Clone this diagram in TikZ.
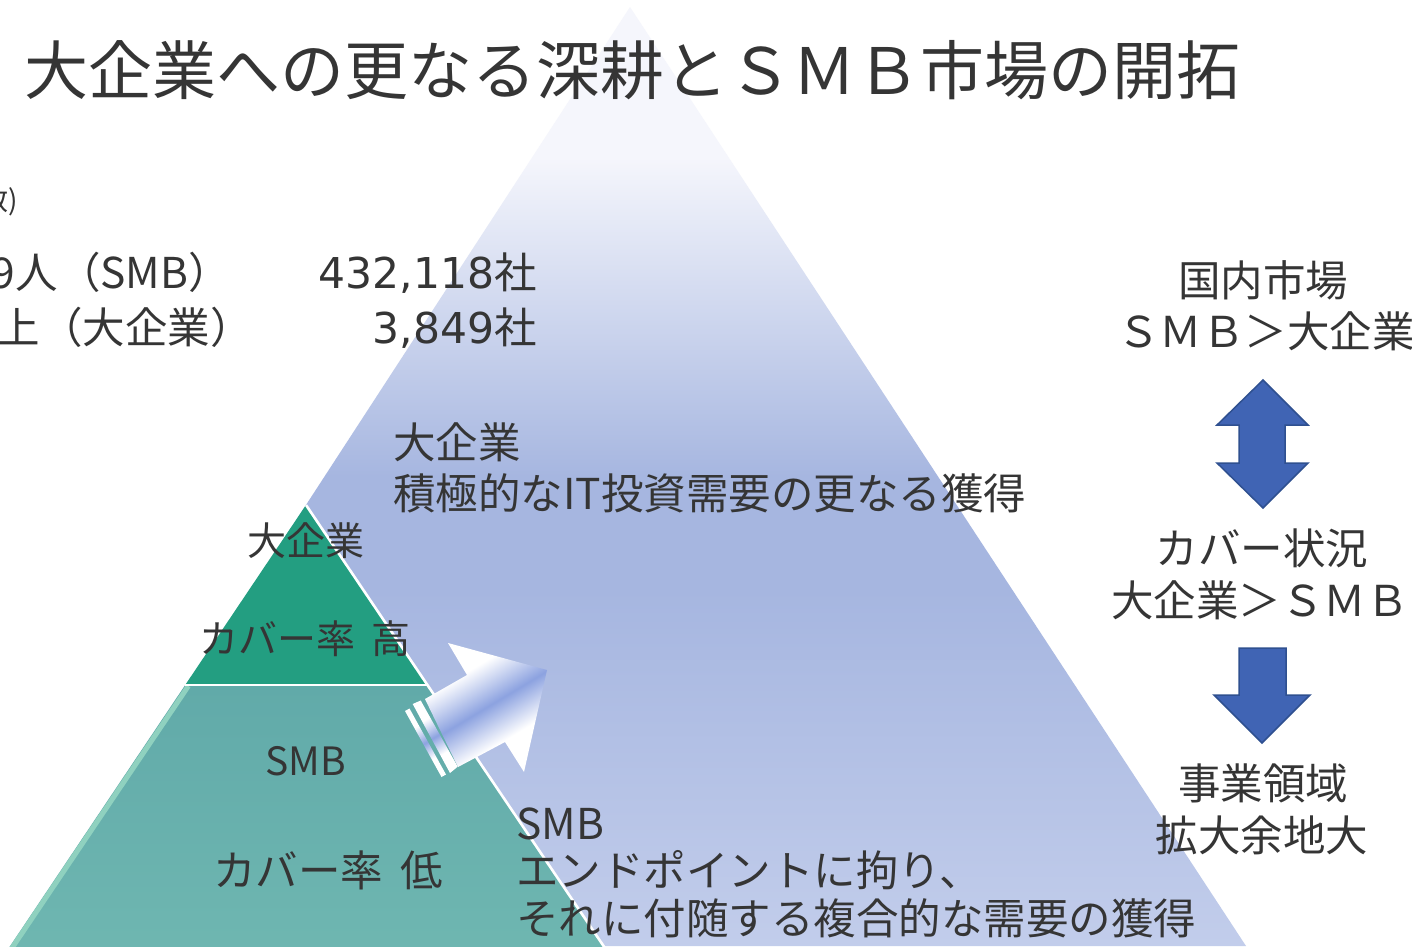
\documentclass[tikz,border=0pt]{standalone}
\usepackage{fontspec}
\setmainfont{Noto Sans CJK JP}
\newfontfamily\numfont{DejaVu Sans}
\usetikzlibrary{calc}
\definecolor{txt}{HTML}{353535}
\definecolor{tritop}{HTML}{F5F6FC}
\definecolor{trimid}{HTML}{A6B6E0}
\definecolor{tribot}{HTML}{C2CDEB}
\definecolor{gdark}{HTML}{239E81}
\definecolor{glightA}{HTML}{61AAA9}
\definecolor{glightB}{HTML}{6FB7B1}
\definecolor{gedge}{HTML}{8FD1BF}
\definecolor{arrblue}{HTML}{8CA2E0}
\definecolor{bfill}{HTML}{4064B4}
\definecolor{bline}{HTML}{2F5090}
\pgfdeclareverticalshading{bigtri}{100bp}{color(0bp)=(tribot); color(25bp)=(tribot); color(44bp)=(trimid); color(50bp)=(trimid); color(67bp)=(tritop); color(100bp)=(tritop)}
\pgfdeclareverticalshading{arrsh}{100bp}{color(0bp)=(white); color(35bp)=(white); color(50bp)=(arrblue); color(66bp)=(white); color(100bp)=(white)}
\tikzset{
  lbl/.style={text=txt, inner sep=0pt, font=\fontsize{42.5}{50}\selectfont},
  glbl/.style={text=txt, inner sep=0pt, font=\fontsize{39}{47}\selectfont},
  glblbig/.style={text=txt, inner sep=0pt, font=\fontsize{42.5}{50}\selectfont},
  ttl/.style={text=txt, inner sep=0pt, font=\fontsize{64}{72}\selectfont},
  blockarrow/.style={fill=bfill, draw=bline, line width=1.5pt, line join=miter},
  sharrow/.style={shading=arrsh, shading angle=31},
}
\begin{document}
\begin{tikzpicture}[x=1pt, y=-1pt]
\useasboundingbox (0,0) rectangle (1412,946);
\clip (0,0) rectangle (1412,946);
\fill[white] (0,0) rectangle (1412,946);
% big pyramid
\shade[shading=bigtri] (630,7) -- (19,946) -- (1246,946) -- cycle;
% small pyramid
\fill[gdark] (306,505) -- (185.2,685) -- (427.5,685) -- cycle;
\shade[top color=glightA, bottom color=glightB] (185.2,685) -- (427.5,685) -- (613,960) -- (0.7,960) -- cycle;
\draw[gedge, line width=5pt] ($(185.2,685)+(3.2,1)$) -- ($(0.7,960)+(3.2,0)$);
\draw[white, line width=2.8pt] (185.2,685) -- (427.5,685);
\draw[white, line width=2.6pt] (306,505) -- (613,960);
% 3D arrow
\shade[sharrow] (412.7,704) -- (420.7,700.5) -- (457.7,766.7) -- (450,773) -- cycle;
\shade[sharrow] (405,711) -- (409.5,708.5) -- (446,774.5) -- (441.5,777) -- cycle;
\shade[sharrow] (425,699) -- (467,675) -- (448,643) -- (547,670) -- (524,772) -- (505,742) -- (458,767) -- cycle;
% right block arrows
\draw[blockarrow] (1263,380) -- (1308,425) -- (1285,425) -- (1285,463) -- (1308,463) -- (1263,508) -- (1217,463) -- (1239,463) -- (1239,425) -- (1217,425) -- cycle;
\draw[blockarrow] (1239,648) -- (1286,648) -- (1286,695) -- (1310,695) -- (1262,743) -- (1214,695) -- (1239,695) -- cycle;
% title
\node[ttl, anchor=base west] (title) at (24,94) {大企業への更なる深耕とＳＭＢ市場の開拓};
% left clipped legend
\node[text=txt, inner sep=0pt, font=\fontsize{28}{34}\selectfont, anchor=base east] (unit) at (18,210) {(企業数)};
\node[lbl, anchor=base east] (smbrow) at (231,288) {1～999人（SMB）};
\node[lbl, anchor=base east] (lerow) at (253,343) {1,000人以上（大企業）};
\node[lbl, anchor=base east] (smbnum) at (537,288) {{\numfont 432,118}社};
\node[lbl, anchor=base east] (lenum) at (537,343) {{\numfont 3,849}社};
% big pyramid texts
\node[lbl, anchor=base west] (le1) at (393,458) {大企業};
\node[lbl, anchor=base west] (le2) at (393,509) {積極的なIT投資需要の更なる獲得};
\node[lbl, anchor=base west] (smb1) at (516,839) {SMB};
\node[lbl, anchor=base west] (smb2) at (516,886) {エンドポイントに拘り、};
\node[lbl, anchor=base west] (smb3) at (516,934) {それに付随する複合的な需要の獲得};
% small pyramid texts
\node[glbl, anchor=base] (g1) at (306,555) {大企業};
\node[glbl, anchor=base] (g2) at (305,653) {カバー率\hspace{0.4em}高};
\node[glbl, anchor=base] (g3) at (306,775) {SMB};
\node[glblbig, anchor=base] (g4) at (328,886) {カバー率\hspace{0.4em}低};
% right column
\node[lbl, anchor=base] (r1) at (1263,296) {国内市場};
\node[lbl, anchor=base] (r2) at (1266,347) {ＳＭＢ＞大企業};
\node[lbl, anchor=base] (r3) at (1262,564) {カバー状況};
\node[lbl, anchor=base] (r4) at (1260,616) {大企業＞ＳＭＢ};
\node[lbl, anchor=base] (r5) at (1263,799) {事業領域};
\node[lbl, anchor=base] (r6) at (1262,851) {拡大余地大};
\end{tikzpicture}
\end{document}
